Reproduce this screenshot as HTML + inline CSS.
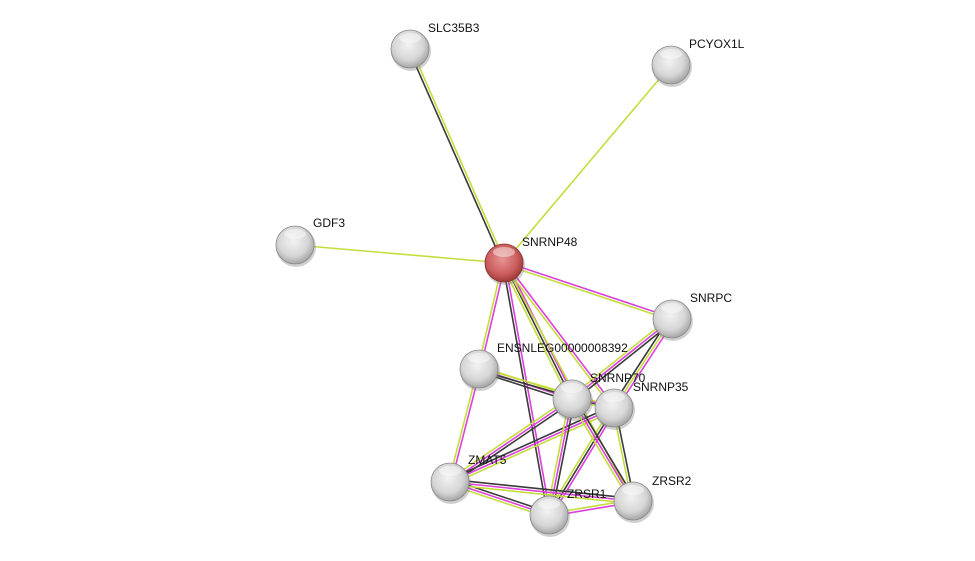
<!DOCTYPE html>
<html><head><meta charset="utf-8"><style>
html,body{margin:0;padding:0;background:#fff;width:975px;height:561px;overflow:hidden}
svg text{font-family:"Liberation Sans",sans-serif;font-size:12px;fill:#111}
</style></head><body>
<svg id="s" width="975" height="561" xmlns="http://www.w3.org/2000/svg">
<defs>
<radialGradient id="gw" cx="0.45" cy="0.4" r="0.65">
<stop offset="0" stop-color="#f2f2f2"/><stop offset="0.6" stop-color="#d6d6d6"/><stop offset="1" stop-color="#9a9a9a"/></radialGradient>
<radialGradient id="gr" cx="0.45" cy="0.4" r="0.65">
<stop offset="0" stop-color="#e89494"/><stop offset="0.6" stop-color="#cc5e5e"/><stop offset="1" stop-color="#963030"/></radialGradient>
</defs>
<g id="edges"></g>
<g id="nodes"></g>
</svg>
<script>
var N={
SLC35B3:[410,49],PCYOX1L:[671,65],GDF3:[295,245],SNRNP48:[504,263],SNRPC:[672,319],
ENS:[479,369],SNRNP70:[572,399],SNRNP35:[614,408],ZMAT5:[450,482],ZRSR1:[549,515],ZRSR2:[633,501]};
var Y="#c4dc3c",M="#dd3fdd",K="#3a3a3a";
var E=[
["SNRNP48","SLC35B3",[K,Y]],["SNRNP48","PCYOX1L",[Y]],["SNRNP48","GDF3",[Y]],
["SNRNP48","SNRPC",[M,Y]],["SNRNP48","ENS",[M,Y]],["SNRNP48","SNRNP70",[M,K,Y]],
["SNRNP48","SNRNP35",[M,Y]],["SNRNP48","ZRSR1",[M,K]],["SNRNP48","ZRSR2",[Y]],
["SNRPC","SNRNP70",[K,M,Y]],["SNRPC","SNRNP35",[M,Y,K]],
["ENS","SNRNP70",[Y,M,K]],["ENS","SNRNP35",[Y,K]],["ENS","ZMAT5",[M,Y]],
["SNRNP70","ZMAT5",[K,M,Y]],["SNRNP35","ZMAT5",[Y,M,K]],
["SNRNP70","ZRSR1",[K,M,Y]],["SNRNP35","ZRSR1",[M,K,Y]],
["SNRNP70","ZRSR2",[K,M,Y]],["SNRNP35","ZRSR2",[K,Y]],
["ZMAT5","ZRSR1",[K,M,Y]],["ZMAT5","ZRSR2",[K,M,Y]],["ZRSR1","ZRSR2",[Y,M]],["SNRNP70","SNRNP35",[M,Y]]];
var ns="http://www.w3.org/2000/svg",eg=document.getElementById("edges"),ng=document.getElementById("nodes");
E.forEach(function(e){var a=N[e[0]],b=N[e[1]],dx=b[0]-a[0],dy=b[1]-a[1],L=Math.hypot(dx,dy),px=-dy/L,py=dx/L,n=e[2].length;
e[2].forEach(function(c,i){var o=(i-(n-1)/2)*2.6,l=document.createElementNS(ns,"line");
l.setAttribute("x1",a[0]+px*o);l.setAttribute("y1",a[1]+py*o);l.setAttribute("x2",b[0]+px*o);l.setAttribute("y2",b[1]+py*o);
l.setAttribute("stroke",c);l.setAttribute("stroke-width","1.6");eg.appendChild(l);});});
var lab={SLC35B3:[428,32,"SLC35B3"],PCYOX1L:[689,48,"PCYOX1L"],GDF3:[313,227,"GDF3"],SNRNP48:[522,246,"SNRNP48"],
SNRPC:[690,302,"SNRPC"],ENS:[497,352,"ENSNLEG00000008392"],SNRNP70:[590,382,"SNRNP70"],SNRNP35:[633,391,"SNRNP35"],
ZMAT5:[468,464,"ZMAT5"],ZRSR1:[567,498,"ZRSR1"],ZRSR2:[652,485,"ZRSR2"]};
for(var k in N){var p=N[k];
var sh=document.createElementNS(ns,"circle");sh.setAttribute("cx",p[0]+1);sh.setAttribute("cy",p[1]+2);sh.setAttribute("r",20);sh.setAttribute("fill","#777");sh.setAttribute("opacity","0.35");ng.appendChild(sh);
var c=document.createElementNS(ns,"circle");c.setAttribute("cx",p[0]);c.setAttribute("cy",p[1]);c.setAttribute("r",19);
c.setAttribute("fill",k=="SNRNP48"?"url(#gr)":"url(#gw)");c.setAttribute("stroke",k=="SNRNP48"?"#8a3030":"#8a8a8a");c.setAttribute("stroke-width","0.8");ng.appendChild(c);
var h=document.createElementNS(ns,"ellipse");h.setAttribute("cx",p[0]);h.setAttribute("cy",p[1]-11);h.setAttribute("rx",11);h.setAttribute("ry",5);h.setAttribute("fill","#fff");h.setAttribute("opacity","0.45");ng.appendChild(h);}
for(var k in lab){var t=document.createElementNS(ns,"text");t.setAttribute("x",lab[k][0]);t.setAttribute("y",lab[k][1]);t.textContent=lab[k][2];ng.appendChild(t);}
</script>
</body></html>
